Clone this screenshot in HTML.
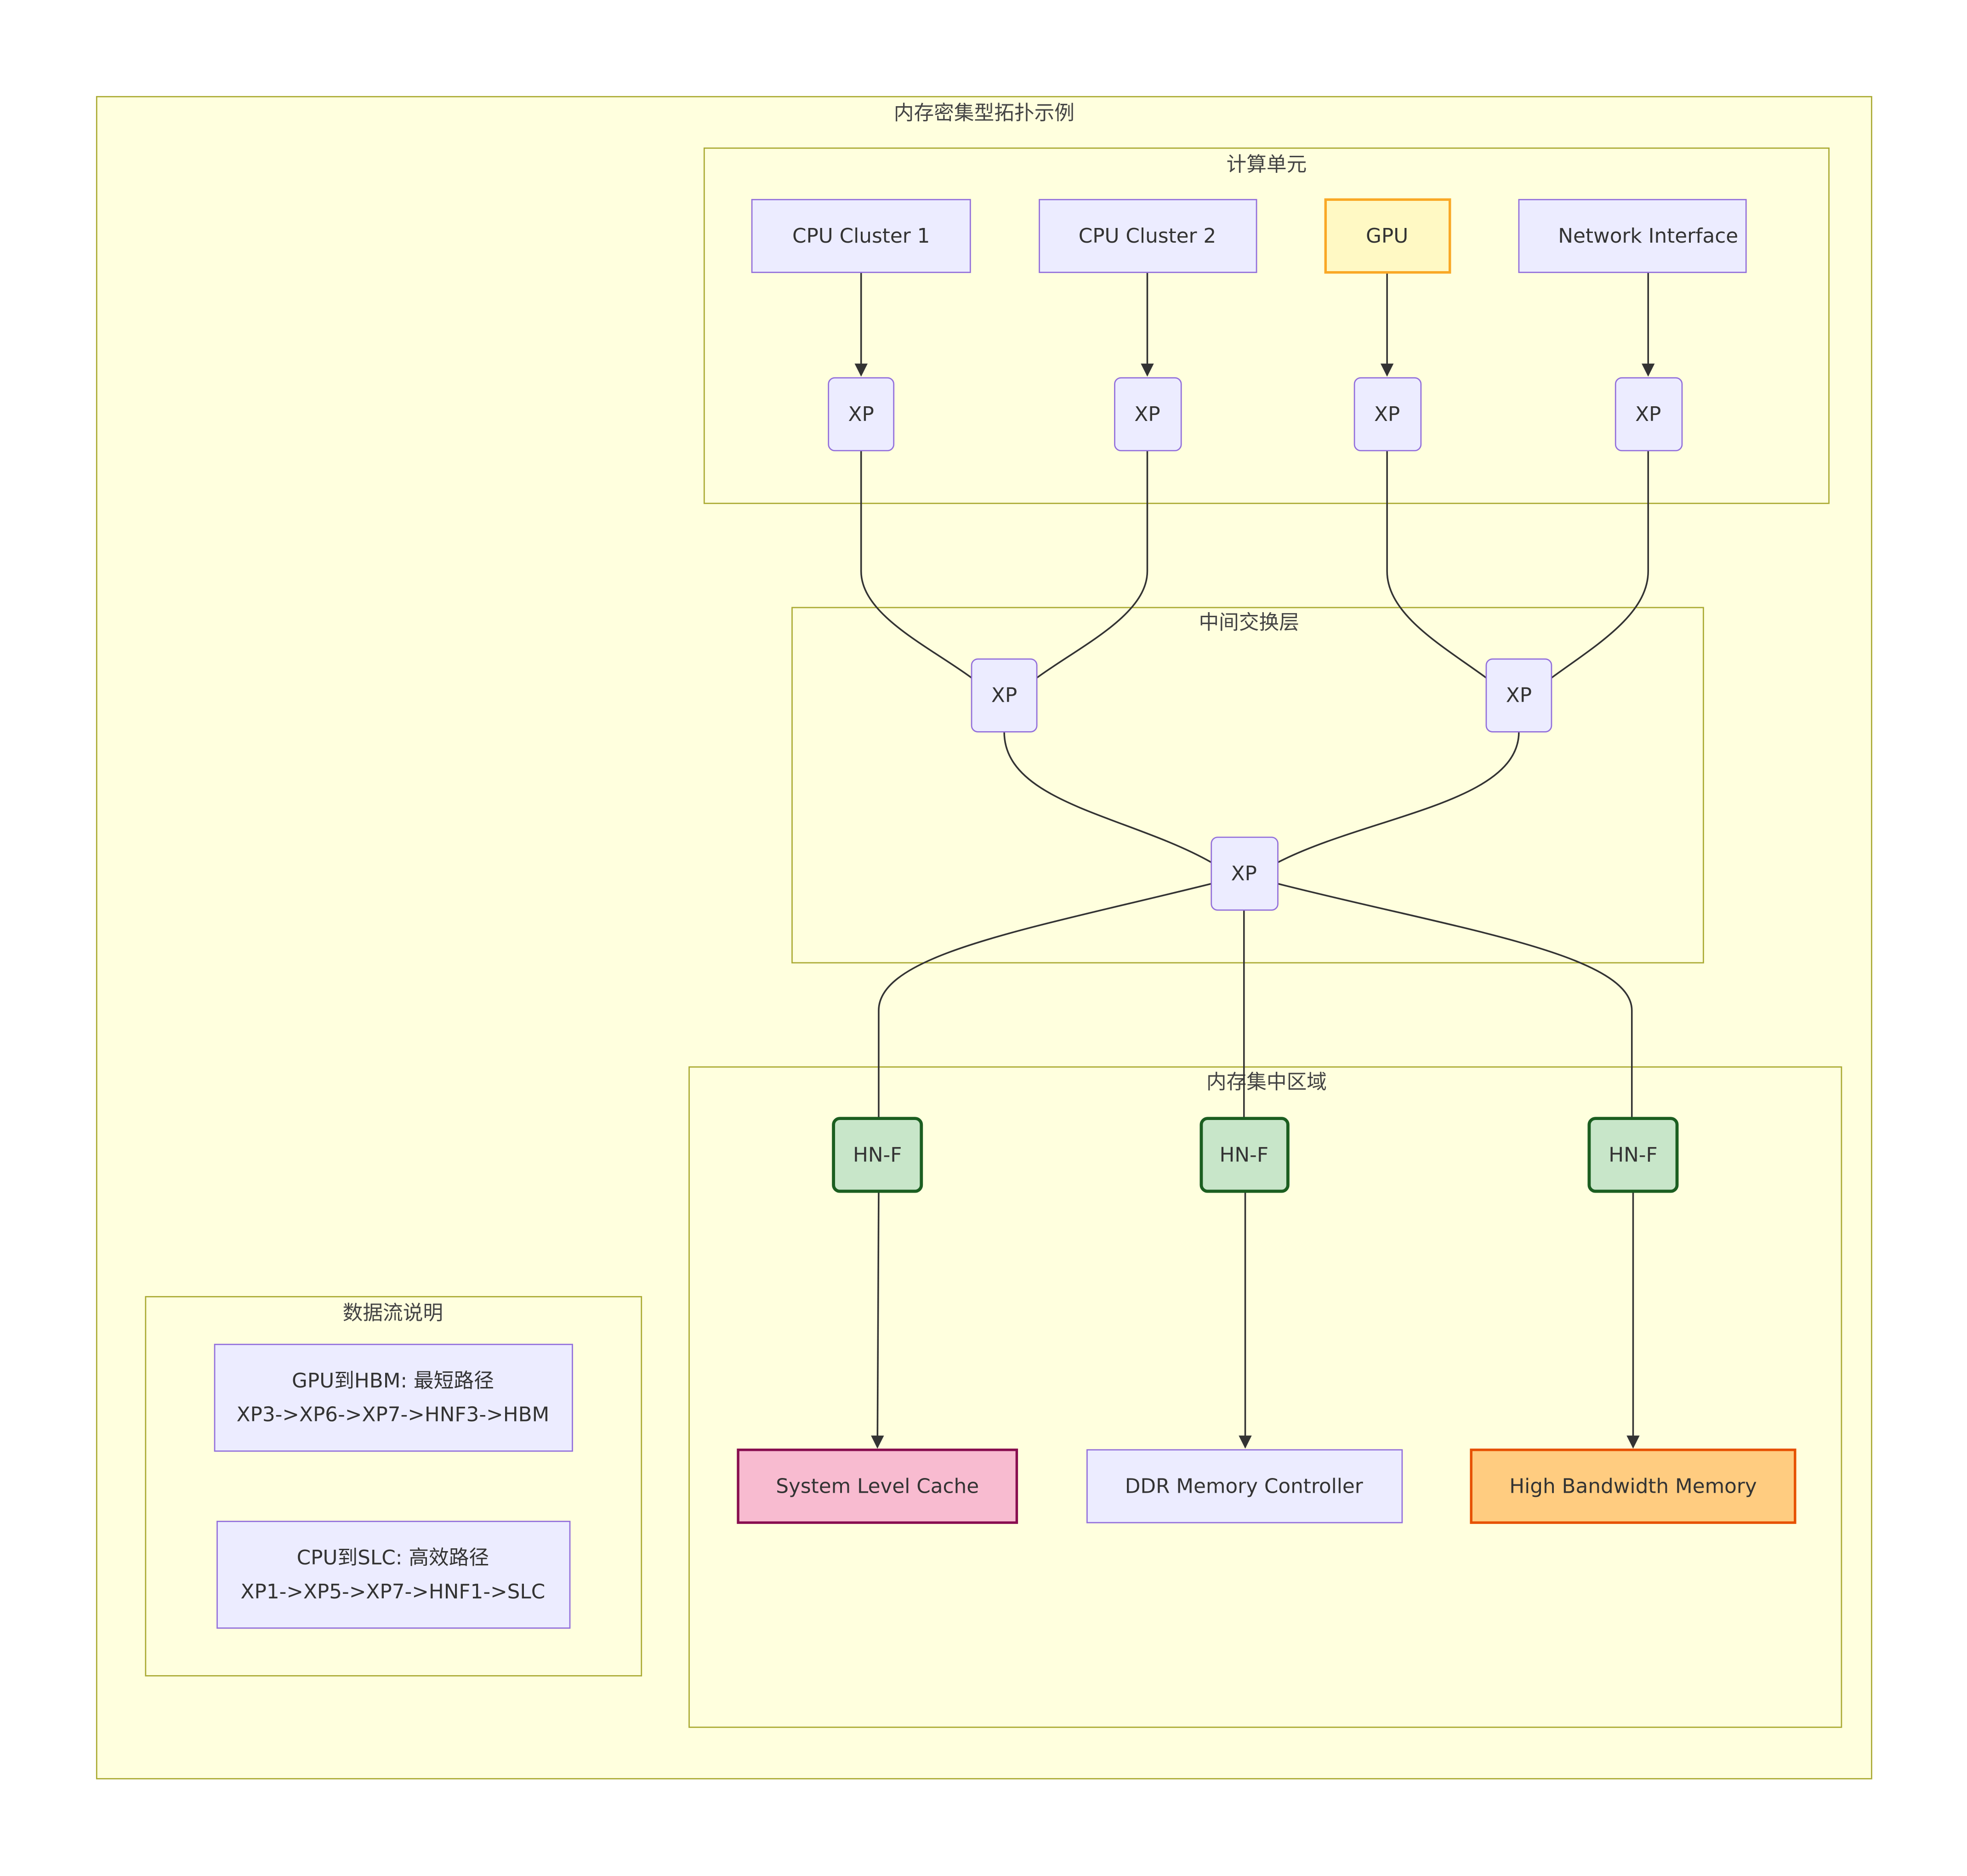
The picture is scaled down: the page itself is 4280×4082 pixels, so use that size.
<!DOCTYPE html>
<html><head><meta charset="utf-8"><style>
html,body{margin:0;padding:0;background:#fff;}
svg{display:block;}
text{font-family:"DejaVu Sans","Liberation Sans","Noto Sans CJK SC",sans-serif;fill:#333;font-size:16px;text-anchor:middle;dominant-baseline:central;}
.t{fill:#444;}
.c{fill:#ffffde;stroke:#aaaa33;stroke-width:1;}
.n{fill:#ececff;stroke:#9370db;stroke-width:1;}
.e{fill:none;stroke:#333;stroke-width:1.3;}
</style></head><body>
<svg width="4280" height="4082" viewBox="0 0 1567 1494.5" preserveAspectRatio="none" xmlns="http://www.w3.org/2000/svg">
<defs><marker id="a" viewBox="0 0 10 10" refX="9" refY="5" markerWidth="8" markerHeight="8" orient="auto"><path d="M0,0L10,5L0,10z" fill="#333"/></marker></defs>
<rect width="1567" height="1495" fill="#fff"/>
<rect class="c" x="77" y="77" width="1414" height="1340"/>
<text class="t" x="784" y="90">内存密集型拓扑示例</text>
<rect class="c" x="561" y="118" width="896" height="283"/>
<text class="t" x="1009" y="131">计算单元</text>
<rect class="c" x="631" y="484" width="726" height="283"/>
<text class="t" x="995" y="496">中间交换层</text>
<rect class="c" x="549" y="850" width="918" height="526"/>
<text class="t" x="1009" y="862">内存集中区域</text>
<rect class="c" x="116" y="1033" width="395" height="302"/>
<text class="t" x="313" y="1046">数据流说明</text>

<path class="e" d="M686,217V299" marker-end="url(#a)"/>
<path class="e" d="M914,217V299" marker-end="url(#a)"/>
<path class="e" d="M1105,217V299" marker-end="url(#a)"/>
<path class="e" d="M1313,217V299" marker-end="url(#a)"/>
<path class="e" d="M686,359V455C686,490 740,515 774,540"/>
<path class="e" d="M914,359V455C914,490 860,515 826,540"/>
<path class="e" d="M1105,359V455C1105,490 1150,515 1184,540"/>
<path class="e" d="M1313,359V455C1313,490 1270,515 1236,540"/>
<path class="e" d="M800,583C800,640 900,650 965,687"/>
<path class="e" d="M1210,583C1210,640 1090,650 1018,687"/>
<path class="e" d="M965,704C820,740 700,760 700,805V891"/>
<path class="e" d="M991,725V891"/>
<path class="e" d="M1018,704C1160,740 1300,760 1300,805V891"/>
<path class="e" d="M700,949L699,1153" marker-end="url(#a)"/>
<path class="e" d="M992,949V1153" marker-end="url(#a)"/>
<path class="e" d="M1301,949V1153" marker-end="url(#a)"/>

<rect class="n" x="599" y="159" width="174" height="58"/><text x="686" y="188">CPU Cluster 1</text>
<rect class="n" x="828" y="159" width="173" height="58"/><text x="914" y="188">CPU Cluster 2</text>
<rect x="1056" y="159" width="99" height="58" fill="#fff9c4" stroke="#f9a825" stroke-width="2"/><text x="1105" y="188">GPU</text>
<rect class="n" x="1210" y="159" width="181" height="58"/><text x="1313" y="188">Network Interface</text>
<rect class="n" x="660" y="301" width="52" height="58" rx="5"/><text x="686" y="330">XP</text>
<rect class="n" x="888" y="301" width="53" height="58" rx="5"/><text x="914" y="330">XP</text>
<rect class="n" x="1079" y="301" width="53" height="58" rx="5"/><text x="1105" y="330">XP</text>
<rect class="n" x="1287" y="301" width="53" height="58" rx="5"/><text x="1313" y="330">XP</text>
<rect class="n" x="774" y="525" width="52" height="58" rx="5"/><text x="800" y="554">XP</text>
<rect class="n" x="1184" y="525" width="52" height="58" rx="5"/><text x="1210" y="554">XP</text>
<rect class="n" x="965" y="667" width="53" height="58" rx="5"/><text x="991" y="696">XP</text>
<rect x="664" y="891" width="70" height="58" rx="5" fill="#c8e6c9" stroke="#1b5e20" stroke-width="2.5"/><text x="699" y="920">HN-F</text>
<rect x="957" y="891" width="69" height="58" rx="5" fill="#c8e6c9" stroke="#1b5e20" stroke-width="2.5"/><text x="991" y="920">HN-F</text>
<rect x="1266" y="891" width="70" height="58" rx="5" fill="#c8e6c9" stroke="#1b5e20" stroke-width="2.5"/><text x="1301" y="920">HN-F</text>
<rect x="588" y="1155" width="222" height="58" fill="#f8bbd0" stroke="#880e4f" stroke-width="2"/><text x="699" y="1184">System Level Cache</text>
<rect class="n" x="866" y="1155" width="251" height="58"/><text x="991" y="1184">DDR Memory Controller</text>
<rect x="1172" y="1155" width="258" height="58" fill="#ffcc80" stroke="#e65100" stroke-width="2"/><text x="1301" y="1184">High Bandwidth Memory</text>
<rect class="n" x="171" y="1071" width="285" height="85"/>
<text x="313" y="1100">GPU到HBM: 最短路径</text><text x="313" y="1127">XP3-&gt;XP6-&gt;XP7-&gt;HNF3-&gt;HBM</text>
<rect class="n" x="173" y="1212" width="281" height="85"/>
<text x="313" y="1241">CPU到SLC: 高效路径</text><text x="313" y="1268">XP1-&gt;XP5-&gt;XP7-&gt;HNF1-&gt;SLC</text>
</svg>
</body></html>
